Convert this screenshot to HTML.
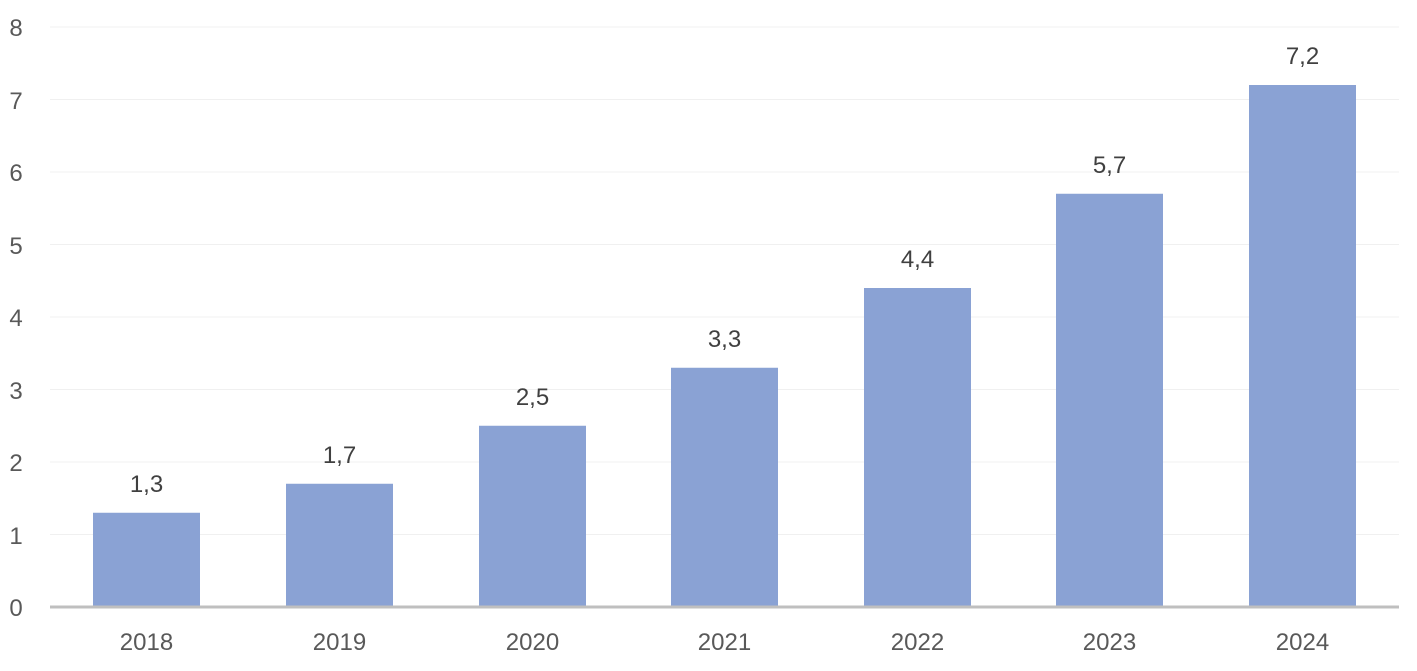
<!DOCTYPE html>
<html><head><meta charset="utf-8"><style>html,body{margin:0;padding:0;background:#fff}</style></head>
<body>
<svg width="1417" height="666" xmlns="http://www.w3.org/2000/svg" font-family="Liberation Sans, sans-serif">
<g stroke="#f0f0f0" stroke-width="1">
<line x1="50" x2="1399" y1="27" y2="27"/><line x1="50" x2="1399" y1="99.5" y2="99.5"/>
<line x1="50" x2="1399" y1="172" y2="172"/><line x1="50" x2="1399" y1="244.5" y2="244.5"/>
<line x1="50" x2="1399" y1="317" y2="317"/><line x1="50" x2="1399" y1="389.5" y2="389.5"/>
<line x1="50" x2="1399" y1="462" y2="462"/><line x1="50" x2="1399" y1="534.5" y2="534.5"/>
</g>
<g fill="#595959" font-size="24" text-anchor="middle">
<text x="16" y="616">0</text><text x="16" y="544">1</text><text x="16" y="471">2</text>
<text x="16" y="399">3</text><text x="16" y="326">4</text><text x="16" y="254">5</text>
<text x="16" y="181">6</text><text x="16" y="109">7</text><text x="16" y="36">8</text>
</g>
<g fill="#8aa2d4">
<rect x="93" y="512.75" width="107" height="94.25"/>
<rect x="286" y="483.75" width="107" height="123.25"/>
<rect x="479" y="425.75" width="107" height="181.25"/>
<rect x="671" y="367.75" width="107" height="239.25"/>
<rect x="864" y="288" width="107" height="319"/>
<rect x="1056" y="193.75" width="107" height="413.25"/>
<rect x="1249" y="85" width="107" height="522"/>
</g>
<line x1="50" x2="1399" y1="607" y2="607" stroke="#bfbfbf" stroke-width="3"/>
<g fill="#404040" font-size="24" text-anchor="middle">
<text x="146.5" y="492">1,3</text><text x="339.5" y="463">1,7</text><text x="532.5" y="405">2,5</text>
<text x="724.5" y="347">3,3</text><text x="917.5" y="267">4,4</text><text x="1109.5" y="173">5,7</text>
<text x="1302.5" y="64">7,2</text>
</g>
<g fill="#595959" font-size="24" text-anchor="middle">
<text x="146.5" y="650">2018</text><text x="339.5" y="650">2019</text><text x="532.5" y="650">2020</text>
<text x="724.5" y="650">2021</text><text x="917.5" y="650">2022</text><text x="1109.5" y="650">2023</text>
<text x="1302.5" y="650">2024</text>
</g>
</svg>
</body></html>
